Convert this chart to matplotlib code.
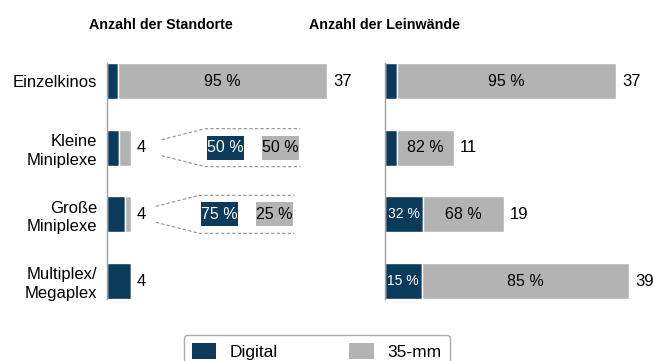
import matplotlib.pyplot as plt
from matplotlib.patches import Patch, Rectangle

plt.rcParams['font.family'] = ['Liberation Sans', 'DejaVu Sans']

# Kinotypen und Anteile (Digital / 35-mm) in Prozent
kategorien = ['Einzelkinos', 'Kleine\nMiniplexe', 'Große\nMiniplexe', 'Multiplex/\nMegaplex']

standorte_gesamt = [37, 4, 4, 4]
standorte_digital = [5, 50, 75, 100]
standorte_35mm = [95, 50, 25, 0]

leinwaende_gesamt = [37, 11, 19, 39]
leinwaende_digital = [5, 18, 32, 15]
leinwaende_35mm = [95, 82, 68, 85]

DUNKEL = '#0c3a5b'
GRAU = '#b3b3b3'

fig = plt.figure(figsize=(6.53, 3.61), dpi=100)
ax1 = fig.add_axes([107 / 653, 1 - 299 / 361, 233 / 653, 236 / 361])
ax2 = fig.add_axes([385 / 653, 1 - 299 / 361, 265 / 653, 236 / 361])


def balken(ax, gesamt, dig, ana, xmax):
    y = list(range(len(gesamt)))
    d = [g * p / 100 for g, p in zip(gesamt, dig)]
    a = [g * p / 100 for g, p in zip(gesamt, ana)]
    ax.barh(y, d, height=0.54, color=DUNKEL, edgecolor='white', linewidth=1)
    ax.barh(y, a, left=d, height=0.54, color=GRAU, edgecolor='white', linewidth=1)
    for i in y:
        ax.annotate(str(gesamt[i]), (gesamt[i], i), xytext=(4.5, 0),
                    textcoords='offset points', va='center', ha='left', fontsize=12)
        if d[i] >= 5:
            ax.text(d[i] / 2, i, f'{dig[i]} %', color='white', fontsize=10,
                    ha='center', va='center')
        if a[i] >= 5:
            ax.text(d[i] + a[i] / 2, i, f'{ana[i]} %', color='black', fontsize=11.5,
                    ha='center', va='center')
    ax.set_xlim(0, xmax)
    ax.set_ylim(3.27, -0.27)
    ax.set_xticks([])
    for s in ['top', 'right', 'bottom']:
        ax.spines[s].set_visible(False)
    ax.spines['left'].set_color('#a0a0a0')
    ax.spines['left'].set_linewidth(1)


balken(ax1, standorte_gesamt, standorte_digital, standorte_35mm, 233 / 5.95)
balken(ax2, leinwaende_gesamt, leinwaende_digital, leinwaende_35mm, 265 / 6.25)

ax1.set_yticks(range(4))
ax1.set_yticklabels(kategorien, fontsize=12, linespacing=1.3)
ax1.tick_params(axis='y', length=0, pad=7)
ax2.set_yticks([])

# Aufschlüsselung der kleinen Balken (Kleine / Große Miniplexe)
bw, bh = 6.2, 0.36
for i, dx in [(1, 0.0), (2, -1.0)]:
    x0 = standorte_gesamt[i] + 5.2 + dx
    x1 = x0 + 7.3
    x2 = x1 + 16
    for s in (-1, 1):
        ax1.plot([x0, x1, x2], [i + s * 0.12, i + s * 0.285, i + s * 0.285],
                 color='#909090', lw=0.8, ls=(0, (3, 2)))
    for xc, farbe, tfarbe, wert in [(x1 + 3.4, DUNKEL, 'white', standorte_digital[i]),
                                    (x1 + 12.6, GRAU, 'black', standorte_35mm[i])]:
        ax1.add_patch(Rectangle((xc - bw / 2, i - bh / 2), bw, bh, fc=farbe, ec='none'))
        ax1.text(xc, i, f'{wert} %', color=tfarbe, fontsize=11.5,
                 ha='center', va='center')

fig.text(161 / 653, 1 - 25 / 361, 'Anzahl der Standorte', fontsize=10.3,
         fontweight='bold', ha='center', va='center')
fig.text(385 / 653, 1 - 25 / 361, 'Anzahl der Leinwände', fontsize=10.3,
         fontweight='bold', ha='center', va='center')

handles = [Patch(facecolor=DUNKEL), Patch(facecolor=GRAU)]
fig.legend(handles, ['Digital', '35-mm'], ncol=2, loc='upper left',
           bbox_to_anchor=(184 / 653, 1 - 335 / 361), fontsize=12.5,
           frameon=True, fancybox=True, edgecolor='#999999',
           handlelength=1.4, handleheight=1.1, handletextpad=0.8,
           columnspacing=4.1, borderpad=0.45, borderaxespad=0)

fig.savefig('out.png', dpi=100)
